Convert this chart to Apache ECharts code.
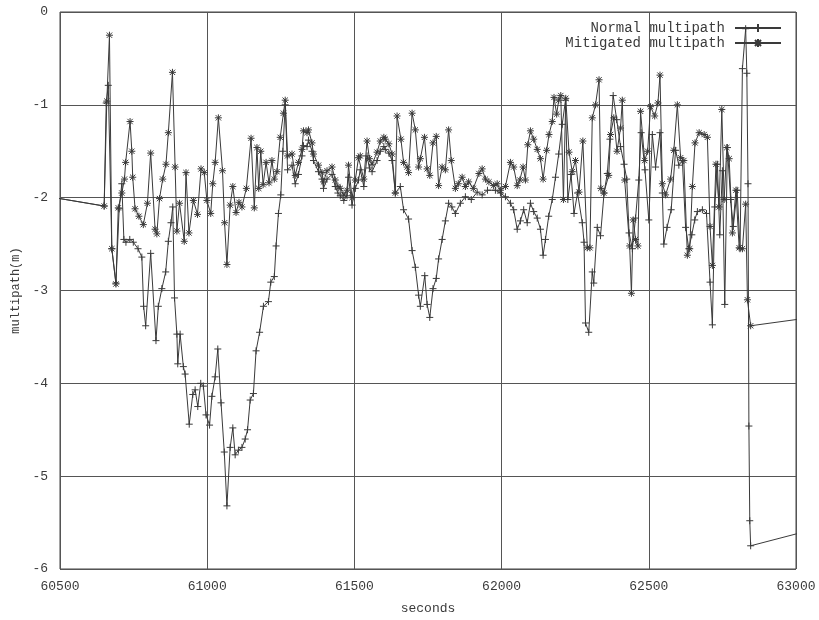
<!DOCTYPE html>
<html>
<head>
<meta charset="utf-8">
<script src="https://cdn.jsdelivr.net/npm/echarts@6/dist/echarts.min.js"></script>
<style>html,body{margin:0;padding:0;background:#fff}#c{width:819px;height:620px}</style>
</head>
<body>
<div id="c"></div>
<script>
const xTicks = [60500, 61000, 61500, 62000, 62500, 63000];
const yTicks = [-6, -5, -4, -3, -2, -1, 0];

const normalT = [60350,60650,60657,60664,60676,60690,60701,60710,60717,60724,60737,60749,60765,60778,60784,60791,60808,60826,60834,60846,60859,60868,60877,60883,60889,60897,60900,60908,60919,60925,60939,60951,60959,60968,60978,60987,60996,61008,61016,61027,61036,61047,61058,61067,61078,61087,61095,61106,61118,61129,61137,61146,61157,61166,61178,61191,61208,61216,61228,61234,61242,61250,61257,61265,
61273,61288,61299,61310,61322,61327,61339,61344,61356,61361,61378,61390,61395,61407,61424,61435,61444,61452,61464,61475,61480,61492,61503,61514,61520,61532,61543,61551,61560,61577,61588,61600,61605,61617,61628,61639,
61656,61667,61684,61696,61707,61718,61724,61739,61747,61756,61767,61778,61786,61798,61809,61820,61831,61843,61860,61877,61897,61917,61934,61952,61979,61996,62013,62030,62041,62053,62064,62075,62087,62098,62109,62121,62132,62141,62149,62160,62172,62183,62194,
62206,62217,62225,62236,62246,62258,62274,62280,62285,62296,62308,62313,62325,62336,62348,62359,62368,62379,62391,62404,62416,62425,62433,62444,62455,62466,62474,62487,62500,62512,62523,62538,62546,62551,62562,62576,62591,62602,62614,62625,62636,62646,62656,62665,62682,62696,62708,62716,62724,62733,62741,62750,62758,62767,62778,62787,62800,62810,62818,62829,62833,62837,62840,62843,62846,63100];
const normalV = [-1.93,-2.09,-0.98,-0.79,-2.55,-2.92,-2.12,-1.85,-2.45,-2.48,-2.45,-2.48,-2.55,-2.64,-3.17,-3.38,-2.6,-3.54,-3.17,-2.98,-2.8,-2.47,-2.27,-2.1,-3.08,-3.47,-3.79,-3.47,-3.82,-3.9,-4.44,-4.12,-4.07,-4.25,-4.0,-4.03,-4.34,-4.45,-4.14,-3.93,-3.63,-4.21,-4.74,-5.32,-4.69,-4.48,-4.77,-4.72,-4.69,-4.6,-4.5,-4.18,-4.11,-3.65,-3.45,-3.17,-3.12,-2.91,-2.85,-2.52,-2.17,-1.97,-1.5,-1.0,
-1.7,-1.65,-1.85,-1.75,-1.55,-1.44,-1.45,-1.38,-1.5,-1.6,-1.72,-1.8,-1.9,-1.8,-1.75,-1.88,-1.95,-1.98,-2.03,-1.98,-1.78,-2.08,-1.9,-1.81,-1.7,-1.88,-1.55,-1.68,-1.72,-1.6,-1.5,-1.45,-1.48,-1.52,-1.6,-1.95,
-1.88,-2.13,-2.23,-2.57,-2.75,-3.05,-3.17,-2.84,-3.15,-3.29,-2.98,-2.87,-2.66,-2.45,-2.25,-2.06,-2.1,-2.17,-2.06,-1.99,-2.02,-1.94,-1.97,-1.92,-1.92,-1.95,-1.99,-2.06,-2.13,-2.34,-2.25,-2.13,-2.27,-2.06,-2.15,-2.22,-2.34,-2.62,-2.45,-2.2,-2.02,-1.78,-1.53,
-1.21,-0.95,-2.02,-1.75,-2.17,-1.95,-2.27,-2.48,-3.35,-3.45,-2.8,-2.92,-2.32,-2.41,-1.95,-1.74,-1.37,-0.9,-1.16,-1.45,-1.64,-1.8,-2.38,-2.55,-2.22,-1.81,-1.3,-1.7,-2.24,-1.32,-1.67,-1.3,-1.95,-2.5,-2.32,-2.13,-1.49,-1.65,-1.6,-2.32,-2.55,-2.4,-2.24,-2.15,-2.13,-2.17,-2.91,-3.37,-2.1,-1.64,-2.4,-1.71,-3.15,-1.46,-2.02,-2.31,-1.92,-2.55,-0.61,-0.18,-0.66,-1.85,-4.46,-5.48,-5.75,-5.54];

const mitigatedT = [60350,60650,60659,60668,60676,60690,60698,60710,60719,60723,60738,60744,60747,60755,60768,60783,60797,60808,60823,60829,60838,60849,60860,60868,60882,60891,60897,60906,60922,60928,60938,60953,60967,60979,60990,60999,61012,61019,61027,61038,61052,61059,61067,61078,61087,61098,61108,61118,61133,61149,61160,61169,61175,61182,61190,61200,61210,61220,61228,61237,61248,61259,61265,
61273,61288,61299,61310,61322,61327,61339,61344,61356,61361,61378,61390,61395,61407,61424,61435,61444,61452,61464,61475,61480,61492,61503,61514,61520,61532,61543,61551,61560,61577,61588,61600,61605,61617,61628,61639,61645,61658,61667,61679,61684,61696,61707,61718,61724,61738,61747,61756,61767,61778,61786,61798,61809,61820,61829,61843,61853,61866,61877,61888,61904,61923,61934,61945,61957,61973,61985,61996,62013,
62030,62041,62053,62062,62073,62081,62089,62098,62109,62121,62132,62141,62153,62161,62172,62178,62187,62194,62201,62210,62218,62229,62240,62251,62263,62276,62291,62300,62308,62319,62331,62337,62347,62364,62370,62381,62392,62404,62410,62418,62435,62441,62447,62455,62463,62472,62486,62496,62506,62520,62531,62538,62546,62557,62574,62585,62597,62608,62619,62631,62639,62648,62657,62671,62688,62699,62708,62716,62728,62739,62748,62756,62765,62773,62784,62796,62807,62818,62829,62835,62846,63100];
const mitigatedV = [-1.93,-2.09,-0.96,-0.25,-2.55,-2.93,-2.11,-1.95,-1.8,-1.62,-1.18,-1.5,-1.78,-2.12,-2.2,-2.29,-2.06,-1.52,-2.34,-2.39,-2.01,-1.8,-1.64,-1.3,-0.65,-1.67,-2.36,-2.06,-2.47,-1.73,-2.38,-2.03,-2.18,-1.69,-1.73,-2.03,-2.17,-1.85,-1.62,-1.14,-1.71,-2.27,-2.72,-2.08,-1.88,-2.16,-2.05,-2.1,-1.9,-1.36,-2.11,-1.46,-1.9,-1.5,-1.86,-1.62,-1.84,-1.6,-1.8,-1.72,-1.35,-1.09,-0.95,
-1.55,-1.53,-1.76,-1.62,-1.48,-1.28,-1.3,-1.27,-1.41,-1.53,-1.65,-1.73,-1.83,-1.71,-1.67,-1.81,-1.88,-1.9,-1.97,-1.92,-1.65,-2.0,-1.81,-1.57,-1.55,-1.8,-1.39,-1.58,-1.64,-1.51,-1.39,-1.35,-1.37,-1.42,-1.53,-1.95,-1.12,-1.37,-1.62,-1.67,-1.73,-1.09,-1.27,-1.67,-1.58,-1.35,-1.69,-1.76,-1.41,-1.34,-1.87,-1.67,-1.7,-1.27,-1.6,-1.9,-1.85,-1.78,-1.88,-1.83,-1.9,-1.74,-1.69,-1.8,-1.83,-1.87,-1.85,-1.92,-1.88,
-1.62,-1.67,-1.87,-1.81,-1.67,-1.81,-1.43,-1.28,-1.37,-1.48,-1.58,-1.8,-1.49,-1.32,-1.18,-0.92,-1.1,-0.95,-0.9,-2.02,-0.93,-1.51,-1.72,-1.6,-1.94,-1.39,-2.54,-2.54,-1.14,-1.0,-0.73,-1.9,-1.95,-1.76,-1.32,-1.14,-1.5,-1.25,-0.95,-1.81,-2.52,-3.03,-2.24,-2.45,-2.52,-1.07,-1.6,-1.5,-1.02,-1.12,-0.98,-0.68,-1.85,-1.97,-1.8,-1.49,-1.0,-1.57,-1.6,-2.62,-2.55,-1.88,-1.41,-1.3,-1.32,-1.35,-2.31,-2.73,-1.64,-2.1,-1.05,-2.02,-1.46,-1.58,-2.38,-1.92,-2.54,-2.55,-2.07,-3.1,-3.38,-3.27];

const seriesNames = ['Normal multipath', 'Mitigated multipath'];
const axisNames = { x: 'seconds', y: 'multipath(m)' };

const FONT = '"Liberation Mono", "DejaVu Sans Mono", monospace';
const INK = '#3a3a3a';
const plusPath = 'path://M0,5L10,5M5,0L5,10';
const starPath = 'path://M0,5L10,5M5,0L5,10M1.2,1.2L8.8,8.8M1.2,8.8L8.8,1.2';

function pairs(t, v) { return t.map((x, i) => [x, v[i]]); }

const chart = echarts.init(document.getElementById('c'), null, { renderer: 'canvas' });
chart.setOption({
  animation: false,
  backgroundColor: '#fff',
  grid: { left: 60, right: 23, top: 12, bottom: 41, show: true, borderColor: '#444', borderWidth: 1, containLabel: false },
  legend: {
    orient: 'vertical', right: 32, top: 16, align: 'right',
    itemWidth: 46, itemHeight: 10, itemGap: 1,
    textStyle: { fontFamily: FONT, fontSize: 14, color: INK, padding: [0, 5, 0, 0] },
    data: seriesNames
  },
  xAxis: {
    type: 'value', min: xTicks[0], max: xTicks[xTicks.length - 1], interval: 500,
    name: axisNames.x, nameLocation: 'middle', nameGap: 33,
    nameTextStyle: { fontFamily: FONT, fontSize: 13, color: INK },
    axisLine: { show: false }, axisTick: { show: false },
    axisLabel: { fontFamily: FONT, fontSize: 13, color: INK, margin: 11, formatter: v => String(v) },
    splitLine: { show: true, lineStyle: { color: '#555', width: 1 } }
  },
  yAxis: {
    type: 'value', min: yTicks[0], max: yTicks[yTicks.length - 1], interval: 1,
    name: axisNames.y, nameLocation: 'middle', nameGap: 38, nameRotate: 90,
    nameTextStyle: { fontFamily: FONT, fontSize: 12, color: INK },
    axisLine: { show: false }, axisTick: { show: false },
    axisLabel: { fontFamily: FONT, fontSize: 13, color: INK, margin: 12, formatter: v => String(v) },
    splitLine: { show: true, lineStyle: { color: '#555', width: 1 } }
  },
  series: [
    {
      name: seriesNames[0], type: 'line', data: pairs(normalT, normalV),
      symbol: plusPath, symbolSize: 7, showAllSymbol: true, clip: true,
      lineStyle: { color: INK, width: 1 },
      itemStyle: { color: INK, borderColor: INK, borderWidth: 1 },
      emphasis: { disabled: true }
    },
    {
      name: seriesNames[1], type: 'line', data: pairs(mitigatedT, mitigatedV),
      symbol: starPath, symbolSize: 7, showAllSymbol: true, clip: true,
      lineStyle: { color: INK, width: 1 },
      itemStyle: { color: INK, borderColor: INK, borderWidth: 1 },
      emphasis: { disabled: true }
    }
  ]
});
</script>
</body>
</html>
